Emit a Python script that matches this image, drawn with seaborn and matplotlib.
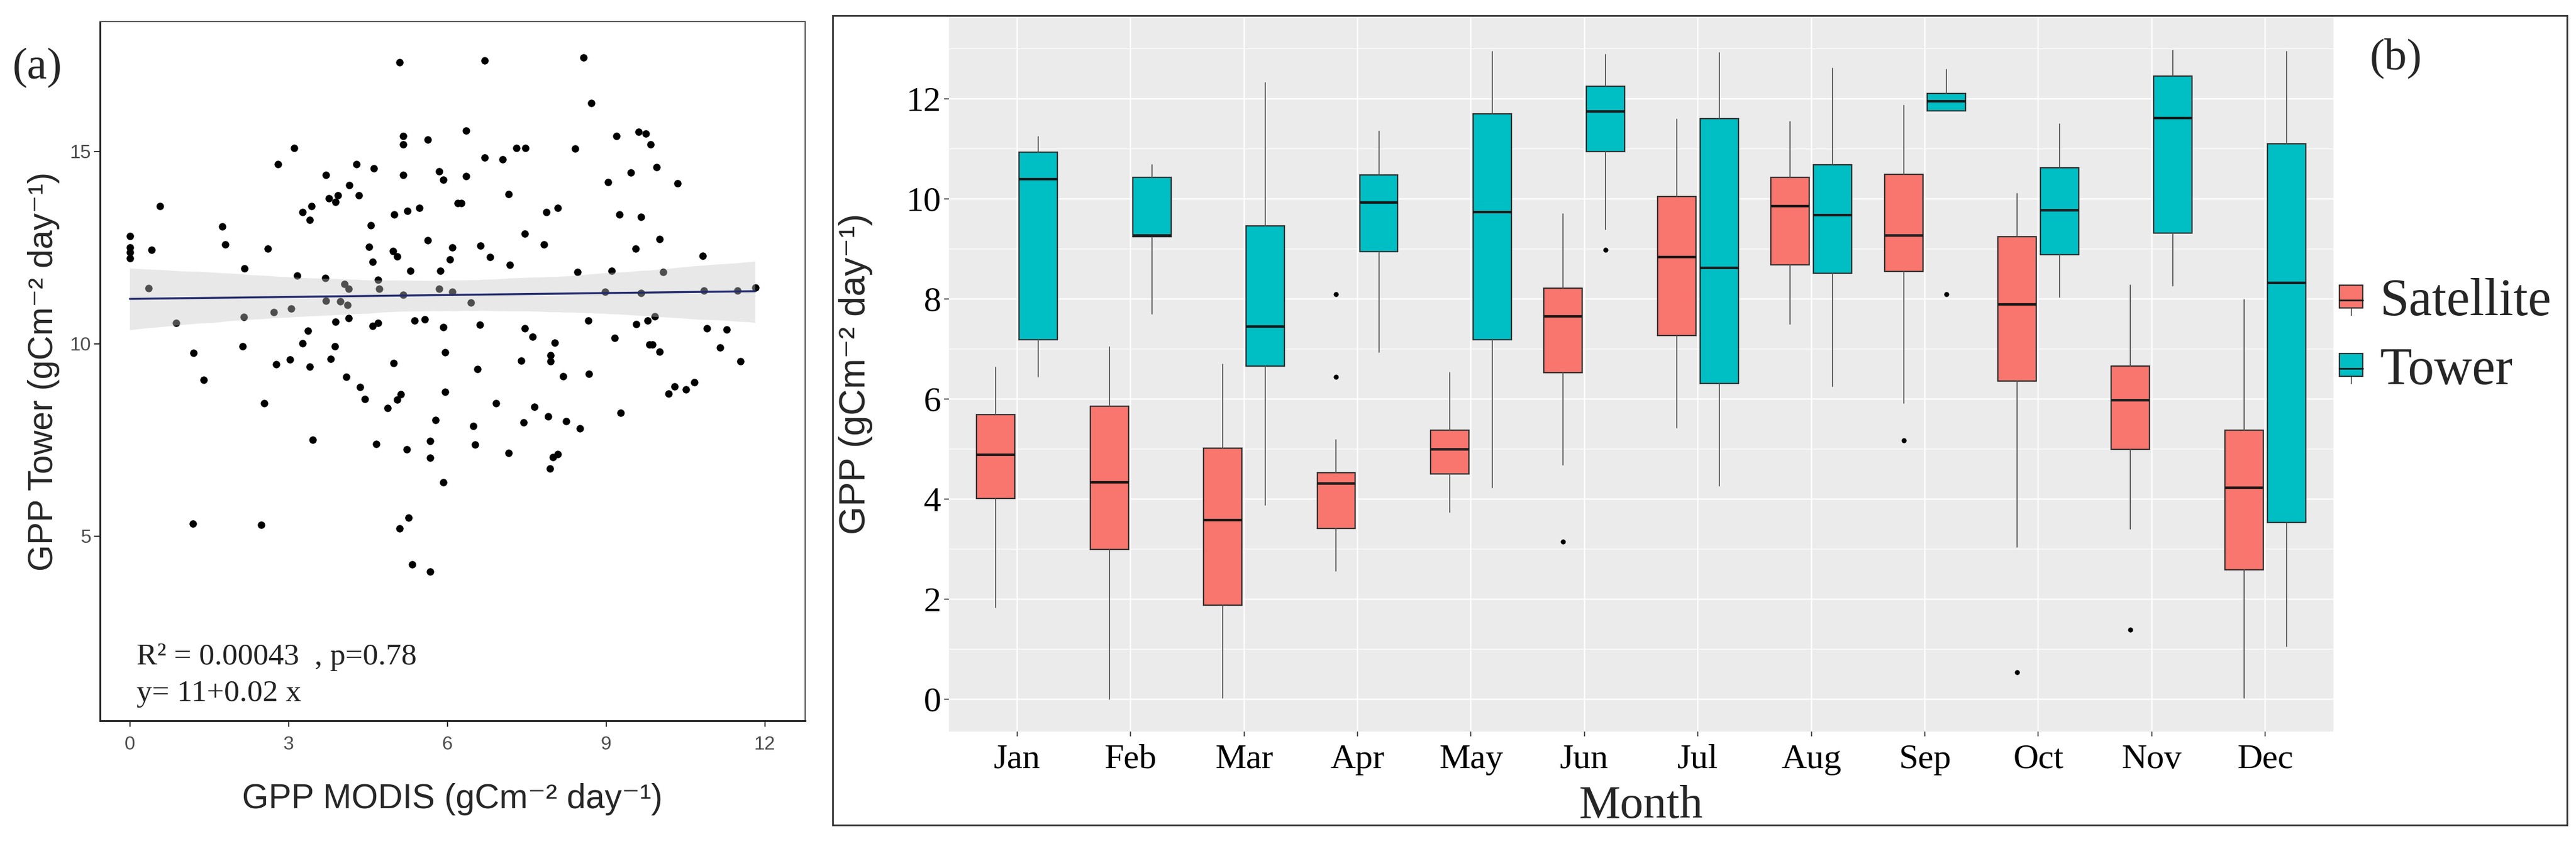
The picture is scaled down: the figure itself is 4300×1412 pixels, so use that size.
import matplotlib
matplotlib.use("Agg")
import matplotlib.pyplot as plt
from matplotlib.patches import Patch, Rectangle
from matplotlib.lines import Line2D
from matplotlib.collections import PolyCollection
import seaborn as sns

# panel (a): GPP MODIS vs GPP tower
modis_x = [5.10, 5.16, 5.16, 5.63, 3.10, 2.80, 4.28, 4.61, 3.71, 5.16, 5.84, 5.92,
           4.15, 3.93, 3.76, 3.89, 4.33, 0.57, 3.43, 3.26, 3.40, 4.99, 5.25, 5.47,
           1.75, 0.00, 0.00, 0.00, 0.00, 0.41, 1.80, 2.61, 4.55, 5.63, 4.52, 4.97,
           5.05, 4.59, 6.09, 6.05, 2.17, 5.30, 5.87,
           3.16, 3.69, 4.06, 4.14, 4.69, 4.71, 5.84, 0.35, 6.09, 5.16, 3.71, 3.98,
           4.11, 0.87, 2.15, 2.72, 3.05,
           3.89, 4.14, 4.59, 4.69, 5.38, 5.57, 5.92, 3.36, 3.26, 2.13, 1.20, 3.87,
           3.80, 5.96, 2.77, 3.03, 3.40, 4.98, 4.09,
           1.40, 4.35, 4.44, 5.12, 5.05, 4.87, 5.96, 2.54, 5.78, 3.45, 4.66, 5.23,
           5.67, 5.67, 5.92, 1.19, 2.48, 5.27, 5.10, 5.34, 5.67,
           6.70, 8.57, 8.72, 6.35, 9.20, 9.62, 9.75, 9.84, 7.31, 7.48, 8.42, 6.70,
           7.04, 9.95, 9.47, 9.04, 10.35, 6.35, 7.16, 6.20, 6.26, 7.87, 8.09, 9.25,
           9.66, 7.46, 10.01, 6.63, 7.83, 9.56, 6.81, 7.18, 10.83, 8.46, 9.10, 10.08,
           6.44, 8.98, 9.66, 10.85, 11.48, 11.82, 9.92, 9.79, 9.57, 8.66, 6.62, 10.91,
           11.28, 7.46, 7.61, 9.16, 8.03, 9.82, 9.88, 10.01, 11.15, 7.95, 7.95, 7.40,
           11.54, 6.57, 8.19, 8.68,
           6.92, 7.64, 7.90, 8.25, 8.51, 7.44, 6.49, 6.52, 7.16, 8.00, 8.09, 7.94,
           9.27, 10.18, 10.30, 10.51, 10.67]
tower_y = [17.32, 15.41, 15.18, 15.31, 15.10, 14.67, 14.67, 14.57, 14.39, 14.39, 14.49, 14.27,
           14.12, 13.87, 13.78, 13.69, 13.87, 13.58, 13.58, 13.42, 13.23, 13.36, 13.45, 13.54,
           13.05, 12.81, 12.50, 12.38, 12.22, 12.44, 12.59, 12.47, 13.08, 12.69, 12.53, 12.41,
           12.28, 12.14, 12.50, 12.20, 11.96, 11.90, 11.90,
           11.78, 11.72, 11.56, 11.44, 11.67, 11.44, 11.44, 11.45, 11.35, 11.28, 11.12, 11.10,
           11.01, 10.55, 10.70, 10.83, 10.92,
           10.58, 10.67, 10.46, 10.55, 10.61, 10.64, 10.43, 10.34, 10.01, 9.94, 9.77, 9.94,
           9.61, 9.78, 9.47, 9.59, 9.41, 9.50, 9.15,
           9.06, 8.88, 8.57, 8.69, 8.55, 8.33, 8.75, 8.45, 8.02, 7.50, 7.40, 7.25,
           7.48, 7.04, 6.40, 5.33, 5.30, 5.48, 5.20, 4.26, 4.08,
           17.36, 17.45, 16.26, 15.55, 15.40, 15.52, 15.46, 15.18, 15.10, 15.10, 15.07, 14.85,
           14.79, 14.60, 14.45, 14.21, 14.18, 14.36, 13.90, 13.66, 13.66, 13.42, 13.54, 13.36,
           13.30, 12.87, 12.72, 12.56, 12.59, 12.47, 12.26, 12.05, 12.29, 11.87, 11.90, 11.87,
           11.08, 11.35, 11.32, 11.38, 11.38, 11.47, 10.72, 10.61, 10.52, 10.61, 10.50, 10.40,
           10.37, 10.40, 10.19, 10.16, 10.03, 9.98, 9.98, 9.79, 9.91, 9.71, 9.55, 9.56,
           9.55, 9.34, 9.16, 9.22,
           8.45, 8.36, 8.12, 7.99, 7.81, 7.96, 7.87, 7.38, 7.16, 7.06, 7.13, 6.76,
           8.21, 8.71, 8.90, 8.81, 9.00]

# panel (b): monthly box statistics
months = ["Jan", "Feb", "Mar", "Apr", "May", "Jun",
          "Jul", "Aug", "Sep", "Oct", "Nov", "Dec"]
sat_lo = [1.83, 0.00, 0.02, 2.56, 3.74, 4.68, 5.42, 7.50, 5.92, 3.04, 3.40, 0.02]
sat_q1 = [4.01, 2.99, 1.88, 3.41, 4.50, 6.52, 7.27, 8.68, 8.55, 6.36, 4.99, 2.59]
sat_med = [4.88, 4.34, 3.58, 4.31, 4.99, 7.65, 8.84, 9.86, 9.27, 7.89, 5.98, 4.23]
sat_q3 = [5.69, 5.85, 5.02, 4.53, 5.38, 8.22, 10.05, 10.43, 10.49, 9.25, 6.66, 5.38]
sat_hi = [6.63, 7.04, 6.69, 5.18, 6.52, 9.70, 11.59, 11.54, 11.87, 10.11, 8.28, 7.99]
sat_out = [[], [], [], [8.10, 6.44], [], [3.15], [], [], [5.17], [0.54], [1.39], []]

tow_lo = [6.44, 7.70, 3.88, 6.93, 4.23, 9.39, 4.26, 6.25, 11.76, 8.03, 8.26, 1.05]
tow_q1 = [7.18, 9.25, 6.66, 8.95, 7.18, 10.95, 6.31, 8.51, 11.76, 8.88, 9.32, 3.53]
tow_med = [10.39, 9.27, 7.45, 9.93, 9.73, 11.75, 8.62, 9.67, 11.95, 9.77, 11.62, 8.32]
tow_q3 = [10.93, 10.43, 9.46, 10.48, 11.70, 12.25, 11.60, 10.68, 12.11, 10.62, 12.45, 11.10]
tow_hi = [11.24, 10.68, 12.32, 11.35, 12.95, 12.88, 12.92, 12.61, 12.59, 11.49, 12.97, 12.94]
tow_out = [[], [], [], [], [], [8.98], [], [], [8.10], [], [], []]

SAT_COL = "#F8766D"
TOW_COL = "#00BFC4"
SERIF = ["Liberation Serif", "DejaVu Serif"]
SANS = ["Liberation Sans", "DejaVu Sans"]

sns.set_style("ticks")
plt.rcParams["font.family"] = SANS

fig = plt.figure(figsize=(43, 14.12), dpi=100)

# ---------------- panel (a) ----------------
ax1 = fig.add_axes([0.0388, 0.148, 0.2737, 0.8265])
sns.scatterplot(x=modis_x, y=tower_y, ax=ax1, color="black", s=80,
                linewidth=0, zorder=2)
sns.regplot(x=modis_x, y=tower_y, ax=ax1, scatter=False, ci=95, seed=3,
            color="#232B6E", line_kws={"lw": 2.4, "zorder": 4})
for coll in ax1.collections:
    if isinstance(coll, PolyCollection):
        coll.set_facecolor((0.78, 0.78, 0.78))
        coll.set_edgecolor("none")
        coll.set_alpha(0.4)
        coll.set_zorder(3)

ax1.set_xlim(-0.566, 12.76)
ax1.set_ylim(0.2, 18.38)
ax1.set_xticks([0, 3, 6, 9, 12])
ax1.set_yticks([5, 10, 15])
ax1.tick_params(labelsize=23, labelcolor="#4D4D4D", length=7, width=1.5,
                color="#333333")
ax1.tick_params(axis="x", pad=11)
for sp in ["left", "bottom"]:
    ax1.spines[sp].set_linewidth(2.2)
    ax1.spines[sp].set_color("#222222")
for sp in ["top", "right"]:
    ax1.spines[sp].set_linewidth(1.4)
    ax1.spines[sp].set_color("#555555")
ax1.set_xlabel("GPP MODIS (gCm⁻² day⁻¹)", fontsize=41, family=SANS)
ax1.set_ylabel("GPP Tower (gCm⁻² day⁻¹)", fontsize=41, family=SANS)
ax1.xaxis.set_label_coords(0.5, -0.089)
ax1.yaxis.set_label_coords(-0.057, 0.5)

ax1.text(0.052, 0.091, "R² = 0.00043  , p=0.78", transform=ax1.transAxes,
         fontsize=37, family=SERIF, color="#222222", va="center")
ax1.text(0.052, 0.039, "y= 11+0.02 x", transform=ax1.transAxes,
         fontsize=37, family=SERIF, color="#222222", va="center")
fig.text(0.0145, 0.92, "(a)", fontsize=54, family=SERIF, ha="center", va="center")

# ---------------- panel (b) ----------------
ax2 = fig.add_axes([0.3684, 0.1353, 0.5374, 0.8449])
ax2.set_facecolor("#EBEBEB")
for sp in ax2.spines.values():
    sp.set_visible(False)

pos = list(range(len(months)))
sat_stats = [dict(whislo=sat_lo[i], q1=sat_q1[i], med=sat_med[i], q3=sat_q3[i],
                  whishi=sat_hi[i], fliers=sat_out[i]) for i in pos]
tow_stats = [dict(whislo=tow_lo[i], q1=tow_q1[i], med=tow_med[i], q3=tow_q3[i],
                  whishi=tow_hi[i], fliers=tow_out[i]) for i in pos]

common = dict(widths=0.3375, patch_artist=True, showcaps=False, manage_ticks=False,
              medianprops=dict(color="#1A1A1A", lw=3.0),
              whiskerprops=dict(color="#555555", lw=1.3),
              flierprops=dict(marker="o", markersize=6, markerfacecolor="black",
                              markeredgecolor="none"))
for stats, off, col in [(sat_stats, -0.1875, SAT_COL), (tow_stats, 0.1875, TOW_COL)]:
    ax2.bxp(stats, positions=[p + off for p in pos],
            boxprops=dict(facecolor=col, edgecolor="#333333", lw=1.6), **common)

ax2.set_xlim(-0.6, 11.6)
ax2.set_ylim(-0.647, 13.64)
ax2.set_xticks(pos)
ax2.set_xticklabels(months)
ax2.set_yticks(range(0, 13, 2))
ax2.set_yticks(range(1, 14, 2), minor=True)
ax2.set_axisbelow(True)
ax2.grid(which="major", color="white", lw=1.7)
ax2.grid(which="minor", axis="y", color="white", lw=0.8)
ax2.tick_params(which="major", length=6, width=1.2, color="#333333",
                labelsize=42, labelcolor="black")
ax2.tick_params(axis="x", pad=9)
ax2.tick_params(which="minor", length=0)
for lab in ax2.get_xticklabels() + ax2.get_yticklabels():
    lab.set_family(SERIF)
ax2.set_xlabel("Month", fontsize=56, family=SERIF)
ax2.set_ylabel("GPP (gCm⁻² day⁻¹)", fontsize=44, family=SANS)
ax2.xaxis.set_label_coords(0.5, -0.075)
ax2.yaxis.set_label_coords(-0.055, 0.5)

handles = []
for col in [SAT_COL, TOW_COL]:
    stub = Line2D([], [], marker="|", markersize=38, mew=1.3, color="#555555",
                  linestyle="none")
    box = Patch(facecolor=col, edgecolor="#333333", lw=1.6)
    med = Line2D([], [], color="#1A1A1A", lw=2)
    handles.append((stub, box, med))
fig.legend(handles, ["Satellite", "Tower"], loc="center left",
           bbox_to_anchor=(3905 / 4300, 0.602), frameon=False,
           prop=dict(family=SERIF, size=63), handlelength=0.45,
           handleheight=0.3, handletextpad=0.32, labelspacing=0.38,
           borderpad=0, borderaxespad=0)

fig.text(0.930, 0.931, "(b)", fontsize=54, family=SERIF, ha="center", va="center")
fig.add_artist(Rectangle((0.3233, 0.0248), 0.6732, 0.9568, transform=fig.transFigure,
                         fill=False, edgecolor="#333333", lw=2))

fig.savefig("out.png", dpi=100)
